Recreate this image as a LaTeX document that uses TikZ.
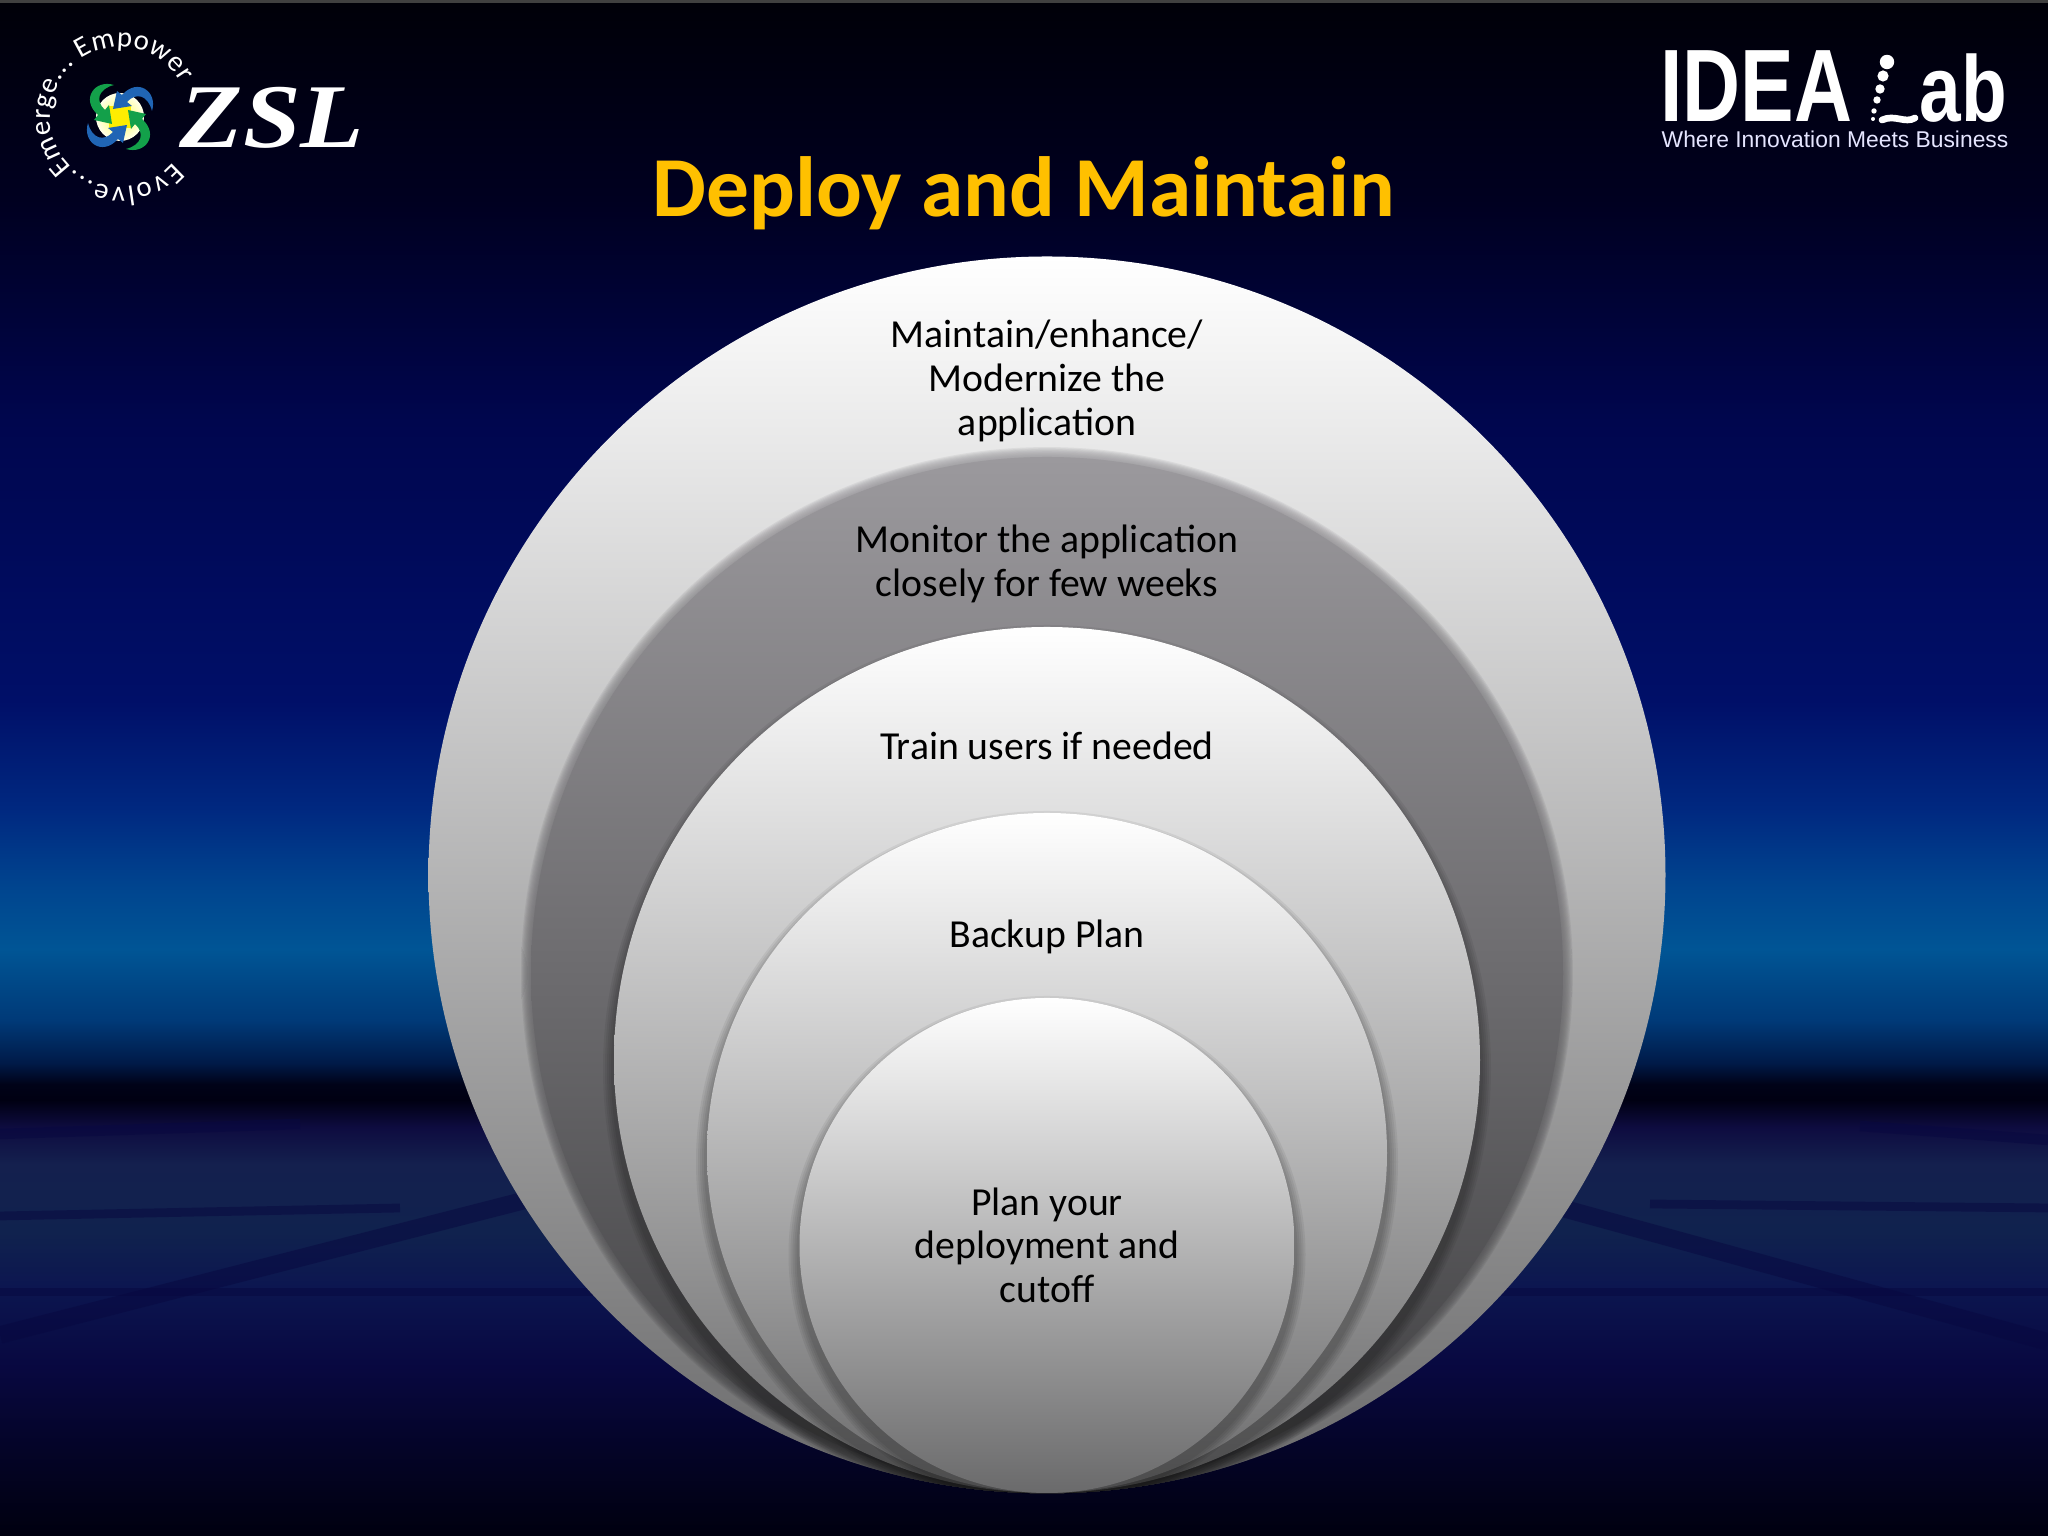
\documentclass[tikz,border=0pt]{standalone}
\usepackage{fontspec}
\setmainfont{Carlito}
\newfontfamily\logoserif{Liberation Serif}
\newfontfamily\logosans{Liberation Sans}
\usetikzlibrary{decorations.text}

\definecolor{skya}{HTML}{00000F}
\definecolor{skyb}{HTML}{040428}
\definecolor{skyc}{HTML}{080840}
\definecolor{skyd}{HTML}{0C1650}
\definecolor{skye}{HTML}{10224E}
\definecolor{skyf}{HTML}{14204E}
\definecolor{skyg}{HTML}{0E0C40}
\definecolor{skyh}{HTML}{000012}
\definecolor{skyi}{HTML}{000218}
\definecolor{skyj}{HTML}{001A48}
\definecolor{skyk}{HTML}{003A78}
\definecolor{skyl}{HTML}{005595}
\definecolor{skym}{HTML}{00458F}
\definecolor{skyn}{HTML}{002880}
\definecolor{skyo}{HTML}{000F68}
\definecolor{skyp}{HTML}{00064E}
\definecolor{skyq}{HTML}{000020}
\definecolor{skyr}{HTML}{000008}
\definecolor{ringlow}{HTML}{6A6A6B}
\definecolor{bandtop}{HTML}{9B999D}
\definecolor{bandlow}{HTML}{3E3E40}
\definecolor{titlegold}{HTML}{FFC000}
\definecolor{zslgreen}{HTML}{13A04A}
\definecolor{zslblue}{HTML}{2065B5}

\pgfdeclareverticalshading{slidesky}{100bp}{color(0bp)=(skya); color(25bp)=(skya); color(27.9bp)=(skyb);
  color(30.5bp)=(skyc); color(33.1bp)=(skyd); color(34.9bp)=(skye); color(37.1bp)=(skyf); color(38.3bp)=(skyg);
  color(39.2bp)=(skyh); color(39.7bp)=(skyi); color(40.4bp)=(skyj); color(41.8bp)=(skyk); color(44.1bp)=(skyl);
  color(46.1bp)=(skym); color(48.7bp)=(skyn); color(52.2bp)=(skyo); color(61.3bp)=(skyp); color(68.5bp)=(skyq);
  color(75bp)=(skyr); color(100bp)=(skyr)}
\pgfdeclareverticalshading{ringlight}{100bp}{color(0bp)=(ringlow); color(25bp)=(ringlow); color(75bp)=(white); color(100bp)=(white)}
\pgfdeclareverticalshading{banddark}{100bp}{color(0bp)=(bandlow); color(25bp)=(bandlow); color(75bp)=(bandtop); color(100bp)=(bandtop)}

\tikzset{
  ring/.style={circle, shade, shading=ringlight, inner sep=0pt, outer sep=0pt},
  ringlabel/.style={align=center, text=black, inner sep=0pt, font=\fontsize{11.3}{12.4}\selectfont},
  floorstreak/.style={line width=5pt, color=skyc, opacity=.5},
  logotext/.style={text=white, inner sep=0pt, anchor=base west},
}

\begin{document}
\begin{tikzpicture}
  \useasboundingbox (0,0) rectangle (20.48,15.36);

  % Bakgrunn
  \shade[shading=slidesky] (0,0) rectangle (20.48,15.36);
  \fill[black!75] (0,15.33) rectangle (20.48,15.36);
  \draw[floorstreak] (0,2.01) -- (6,3.55);
  \draw[floorstreak, line width=2.5pt] (0,2.44) -- (20.48,2.44);
  \draw[floorstreak] (15,3.45) -- (20.48,1.94);
  \draw[floorstreak, line width=2.5pt] (0,3.2) -- (4,3.28);
  \draw[floorstreak, line width=2.5pt] (16.5,3.32) -- (20.48,3.28);
  \draw[floorstreak, line width=3pt] (18.6,4.1) -- (20.48,3.96);
  \draw[floorstreak, line width=3pt] (0,4.02) -- (3,4.12);

  % Tittel
  \node[text=titlegold, inner sep=0pt, font=\fontsize{24.3}{29}\selectfont\bfseries] (title) at (10.24,13.43) {Deploy and Maintain};

  % Sirkler
  \node[ring, minimum size=12.37cm] (outerring) at (10.47,6.61) {};
  \begin{scope}
    \clip (10.47,6.61) circle (6.185);
    \foreach \k in {1,...,10}
      \shade[shading=banddark, opacity=.16] (10.47,5.63) circle ({5.27-\k*0.011});
    \shade[shading=banddark] (10.47,5.63) circle (5.16);
    \foreach \nm/\rr in {3/4.33,4/3.40,5/2.475} {
      \foreach \k in {1,...,5}
        \fill[black, opacity=.06] (10.47,{0.43+\rr-0.09}) circle ({\rr+0.01+\k*0.02});
      \shade[shading=ringlight] (10.47,{0.43+\rr}) circle (\rr);
    }
  \end{scope}

  % Tekst i sirklene
  \node[ringlabel] (maintain) at (10.47,11.55) {Maintain/enhance/\\Modernize the\\application};
  \node[ringlabel] (monitor) at (10.47,9.72) {Monitor the application\\closely for few weeks};
  \node[ringlabel] (train) at (10.47,7.9) {Train users if needed};
  \node[ringlabel] (backup) at (10.47,5.99) {Backup Plan};
  \node[ringlabel] (plan) at (10.47,2.91) {Plan your\\deployment and\\cutoff};

  % ZSL-logo
  \shade[inner color=yellow!70, outer color=white!92!yellow] (1.2,14.19) circle (0.24);
  \fill[yellow!95!orange] (1.09,14.08) rectangle (1.31,14.30);
  \foreach \ang/\col in {0/zslgreen,-90/zslblue,-180/zslgreen,-270/zslblue}
    \fill[\col, shift={(1.2,14.19)}, rotate=\ang, scale=0.01]
      (-6,32) .. controls (-25,38) and (-40,18) .. (-22,2) -- (-26,-3) -- (-8,-7) -- (-11,12) -- (-15,7)
      .. controls (-25,16) and (-22,28) .. (-6,32) -- cycle;
  \path[decorate, decoration={text along path, text align=fit to path, text={|\fontsize{8.2}{9}\selectfont\color{white}|Emerge... Empower}}]
    (1.2,14.19) ++(226:0.7) arc[start angle=226, delta angle=-197, radius=0.7];
  \path[decorate, decoration={text along path, text align=fit to path, text={|\fontsize{8.2}{9}\selectfont\color{white}|Evolve...}}]
    (1.2,14.19) ++(-40:0.7) arc[start angle=-40, delta angle=-92, radius=0.7];
  \node[logotext, xscale=1.14, font=\logoserif\fontsize{25.9}{30}\selectfont\bfseries\itshape] (zsl) at (1.79,13.88) {ZSL};

  % IDEA Lab-logo
  \node[logotext, xscale=.78, font=\logosans\fontsize{29.3}{34}\selectfont\bfseries] (idea) at (16.6,14.14) {IDEA};
  \node[logotext, xscale=.8, font=\logosans\fontsize{26.6}{30}\selectfont\bfseries] (lab) at (19.19,14.14) {ab};
  \foreach \dotx/\doty/\dotr in {18.87/14.74/.072, 18.83/14.60/.056, 18.80/14.47/.047, 18.77/14.36/.037, 18.74/14.25/.027, 18.73/14.17/.02}
    \fill[white] (\dotx,\doty) circle (\dotr);
  \draw[white, line width=1.9pt, line cap=round] (18.82,14.16) .. controls (18.95,14.22) and (19.05,14.12) .. (19.15,14.18);
  \node[logotext, text=white!90!blue, font=\logosans\fontsize{6.5}{7}\selectfont] (tagline) at (16.61,13.88) {Where Innovation Meets Business};
\end{tikzpicture}
\end{document}
